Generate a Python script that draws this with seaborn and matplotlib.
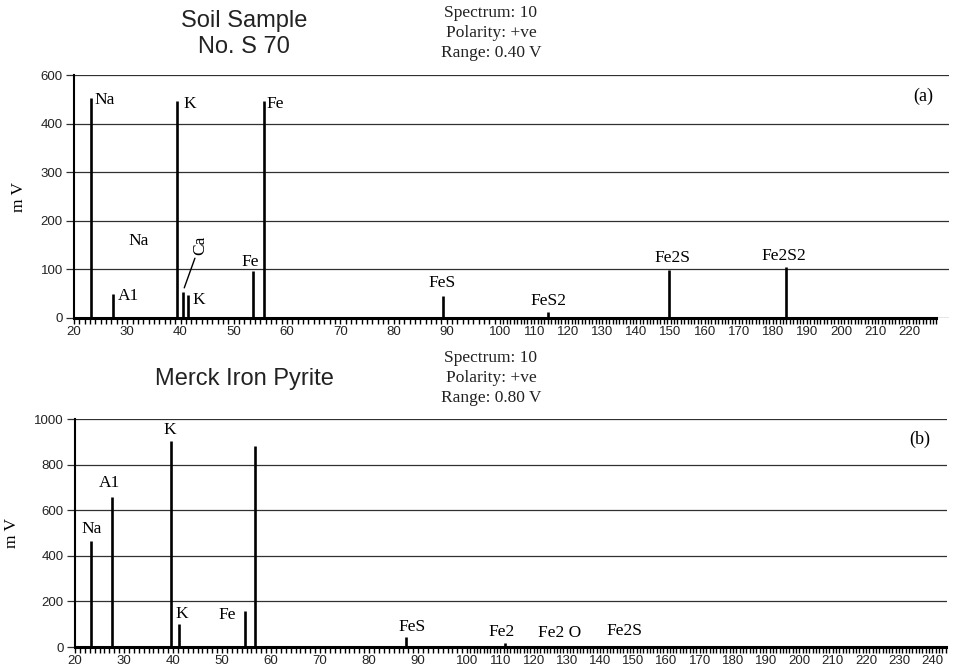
import numpy as np
import matplotlib
matplotlib.use("Agg")
import matplotlib.pyplot as plt
import seaborn as sns

# ---------------- data ----------------
# (a) Soil Sample No. S 70
a_mass = [23.2, 27.3, 39.3, 40.4, 41.4, 53.6, 55.7, 89.2, 114.0, 149.5, 184.0]
a_mv = [507, 49, 495, 54, 47, 97, 491, 46, 12, 99, 104]
a_xticks = list(range(20, 221, 10))
a_yticks = [0, 100, 200, 300, 400, 600]

# (b) Merck Iron Pyrite
b_mass = [23.3, 27.5, 39.6, 41.3, 54.6, 56.7, 87.6, 111.3]
b_mv = [463, 659, 905, 103, 157, 881, 44, 18]
b_xticks = list(range(20, 241, 10))
b_yticks = [0, 200, 400, 600, 800, 1000]

# peak labels
a_labels = ["Na", "Na", "A1", "K", "Fe", "Ca", "K", "Fe", "FeS", "FeS2", "Fe2S", "Fe2S2"]
b_labels = ["Na", "A1", "K", "K", "Fe", "FeS", "Fe2", "Fe2 O", "Fe2S"]

# label placement (layout only): x, y, ha, rotation
a_lab_pos = [(23.9, 498, "left", 0), (32.2, 158, "center", 0), (28.3, 45, "left", 0),
             (40.5, 482, "left", 0), (56.2, 482, "left", 0), (43.7, 150, "center", 90),
             (42.3, 37, "left", 0), (53.1, 115, "center", 0), (89.1, 72, "center", 0),
             (114.1, 35, "center", 0), (150.5, 123, "center", 0), (183.3, 128, "center", 0)]
b_lab_pos = [(23.3, 517, "center", 0), (27.1, 719, "center", 0), (39.4, 952, "center", 0),
             (41.8, 144, "center", 0), (51.0, 139, "center", 0), (88.8, 87, "center", 0),
             (110.5, 64, "center", 0), (127.7, 60, "center", 0), (147.3, 69, "center", 0)]

sns.set_theme(style="white")
plt.rcParams["font.family"] = ["Liberation Sans", "DejaVu Sans"]

SERIF = ["Liberation Serif", "DejaVu Serif"]


def make_scale(brk, r):
    def fwd(x):
        x = np.asarray(x, dtype=float)
        return np.where(x <= brk, x, brk + (x - brk) * r)

    def inv(y):
        y = np.asarray(y, dtype=float)
        return np.where(y <= brk, y, brk + (y - brk) / r)
    return fwd, inv


fig = plt.figure(figsize=(9.68, 6.72), dpi=100)
W, H = 968, 672


def add_ax(left, right, top, bottom):
    return fig.add_axes([left / W, 1 - bottom / H, (right - left) / W, (bottom - top) / H])


ax1 = add_ax(74, 949, 75, 318)
ax2 = add_ax(75, 947, 419, 647)


def style_axis(ax, mass, mv, r, xmax, xticks, yticks, ymax, minor_end, yscale=None):
    ax.set_xscale("function", functions=make_scale(100, r))
    if yscale is not None:
        ax.set_yscale("function", functions=yscale)
    ax.vlines(mass, 0, mv, color="black", lw=1.9, zorder=3)
    ax.set_xlim(20, xmax)
    ax.set_ylim(0, ymax)
    ax.set_xticks(xticks)
    ax.set_xticks(np.arange(20, minor_end + 1, 1), minor=True)
    ax.set_yticks(yticks)
    ax.set_yticks([], minor=True)
    ax.set_yticklabels([str(t) for t in yticks])
    ax.set_xticklabels([str(t) for t in xticks])
    ax.yaxis.grid(True, color="#303030", lw=0.9)
    ax.xaxis.grid(False)
    sns.despine(ax=ax, top=True, right=True)
    ax.spines["left"].set_color("black")
    ax.spines["left"].set_linewidth(1.5)
    ax.spines["bottom"].set_color("black")
    ax.spines["bottom"].set_linewidth(2.2)
    ax.spines["bottom"].set_bounds(20, minor_end)
    ax.tick_params(axis="x", which="both", direction="out", length=4, width=1.0,
                   color="black", bottom=True, labelsize=9.5, pad=2, labelcolor="#222222")
    ax.tick_params(axis="y", which="major", direction="out", length=6, width=0.9,
                   color="#303030", left=True, labelsize=9.5, pad=2, labelcolor="#222222")
    ax.set_xlabel("")
    ax.set_ylabel("m V", family=SERIF, fontsize=12.5, labelpad=10, color="black")
    ax.set_facecolor("white")


style_axis(ax1, a_mass, a_mv, 0.640, 231.7, a_xticks, a_yticks, 600, 228,
           yscale=make_scale(400, 0.5))
style_axis(ax2, b_mass, b_mv, 0.678, 244.4, b_xticks, b_yticks, 1000, 244)

for txt, (x, y, ha, rot) in zip(a_labels, a_lab_pos):
    ax1.text(x, y, txt, ha=ha, va="center", rotation=rot, family=SERIF, fontsize=12.5,
             color="black", zorder=4)
for txt, (x, y, ha, rot) in zip(b_labels, b_lab_pos):
    ax2.text(x, y, txt, ha=ha, va="center", rotation=rot, family=SERIF, fontsize=12.5,
             color="black", zorder=4)

# leader line for Ca
ax1.plot([42.7, 40.7], [123, 62], color="black", lw=1.0, zorder=4)

ax1.text(0.970, 0.914, "(a)", transform=ax1.transAxes, ha="center", va="center",
         family=SERIF, fontsize=13, color="black")
ax2.text(0.969, 0.912, "(b)", transform=ax2.transAxes, ha="center", va="center",
         family=SERIF, fontsize=13, color="black")

# headers
fig.text(244 / W, 1 - 34 / H, "Soil Sample\nNo. S 70", ha="center", va="center",
         fontsize=17, color="#222222", linespacing=1.2)
fig.text(491 / W, 1 - 33 / H, "Spectrum: 10\nPolarity: +ve\nRange: 0.40 V", ha="center",
         va="center", family=SERIF, fontsize=12.5, color="#222222", linespacing=1.3)
fig.text(244 / W, 1 - 379 / H, "Merck Iron Pyrite", ha="center", va="center",
         fontsize=17, color="#222222")
fig.text(491 / W, 1 - 378 / H, "Spectrum: 10\nPolarity: +ve\nRange: 0.80 V", ha="center",
         va="center", family=SERIF, fontsize=12.5, color="#222222", linespacing=1.3)

fig.savefig("out.png", dpi=100)
